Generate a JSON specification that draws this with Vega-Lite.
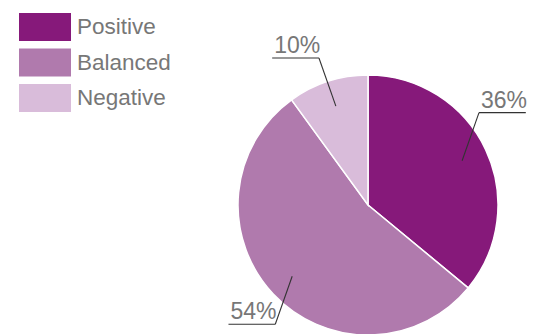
{
  "$schema": "https://vega.github.io/schema/vega-lite/v6.json",
  "width": 260,
  "height": 260,
  "autosize": {"type": "none"},
  "padding": {"left": 238, "top": 75, "right": 43, "bottom": 0},
  "background": "white",
  "config": {"view": {"stroke": null}, "font": "Liberation Sans"},
  "data": {
    "values": [
      {"sentiment": "Positive", "share": 36},
      {"sentiment": "Balanced", "share": 54},
      {"sentiment": "Negative", "share": 10}
    ]
  },
  "transform": [
    {"window": [{"op": "row_number", "as": "i"}]},
    {"window": [{"op": "sum", "field": "share", "as": "cum"}], "sort": [{"field": "i"}], "frame": [null, 0]},
    {"calculate": "2*PI*(datum.cum - datum.share/2)/100", "as": "mid"},
    {"calculate": "sin(datum.mid) >= 0 ? 1 : -1", "as": "sx"},
    {"calculate": "cos(datum.mid) >= 0 ? 1 : -1", "as": "sy"},
    {"calculate": "0.8*sin(datum.mid)", "as": "x1"},
    {"calculate": "0.8*cos(datum.mid)", "as": "y1"},
    {"calculate": "datum.x1 + datum.sx*0.13", "as": "xe"},
    {"calculate": "datum.y1 + datum.sy*0.37", "as": "ye"},
    {"calculate": "datum.xe + datum.sx*0.36", "as": "xh"},
    {"calculate": "min(datum.xe, datum.xh)", "as": "xt"},
    {"calculate": "format(datum.share, 'd') + '%'", "as": "label"}
  ],
  "layer": [
    {
      "mark": {"type": "arc", "stroke": "white", "strokeWidth": 1.5},
      "encoding": {
        "theta": {"field": "share", "type": "quantitative", "stack": true},
        "order": {"field": "i", "type": "quantitative"},
        "color": {
          "field": "sentiment",
          "type": "nominal",
          "sort": ["Positive", "Balanced", "Negative"],
          "scale": {"domain": ["Positive", "Balanced", "Negative"], "range": ["#86197a", "#b07aad", "#d9bcda"]},
          "legend": {
            "orient": "none",
            "legendX": -207,
            "legendY": -62,
            "title": null,
            "padding": 0,
            "symbolType": "M-1.857,-1H1.857V1H-1.857Z",
            "symbolSize": 784,
            "symbolStrokeWidth": 0,
            "symbolOpacity": 1,
            "labelFontSize": 22.5,
            "labelColor": "#777777",
            "labelFont": "Liberation Sans",
            "labelOffset": 18,
            "rowPadding": 7.5
          }
        }
      }
    },
    {
      "mark": {"type": "rule", "color": "#333333", "strokeWidth": 1.1},
      "encoding": {
        "x": {"field": "x1", "type": "quantitative", "scale": {"domain": [-1, 1]}, "axis": null},
        "y": {"field": "y1", "type": "quantitative", "scale": {"domain": [-1, 1]}, "axis": null},
        "x2": {"field": "xe"},
        "y2": {"field": "ye"}
      }
    },
    {
      "mark": {"type": "rule", "color": "#333333", "strokeWidth": 1.1},
      "encoding": {
        "x": {"field": "xe", "type": "quantitative", "scale": {"domain": [-1, 1]}, "axis": null},
        "y": {"field": "ye", "type": "quantitative", "scale": {"domain": [-1, 1]}, "axis": null},
        "x2": {"field": "xh"}
      }
    },
    {
      "mark": {"type": "text", "align": "left", "baseline": "alphabetic", "dy": -5, "dx": 2, "fontSize": 23, "color": "#777777", "font": "Liberation Sans"},
      "encoding": {
        "x": {"field": "xt", "type": "quantitative", "scale": {"domain": [-1, 1]}, "axis": null},
        "y": {"field": "ye", "type": "quantitative", "scale": {"domain": [-1, 1]}, "axis": null},
        "text": {"field": "label"}
      }
    }
  ]
}
